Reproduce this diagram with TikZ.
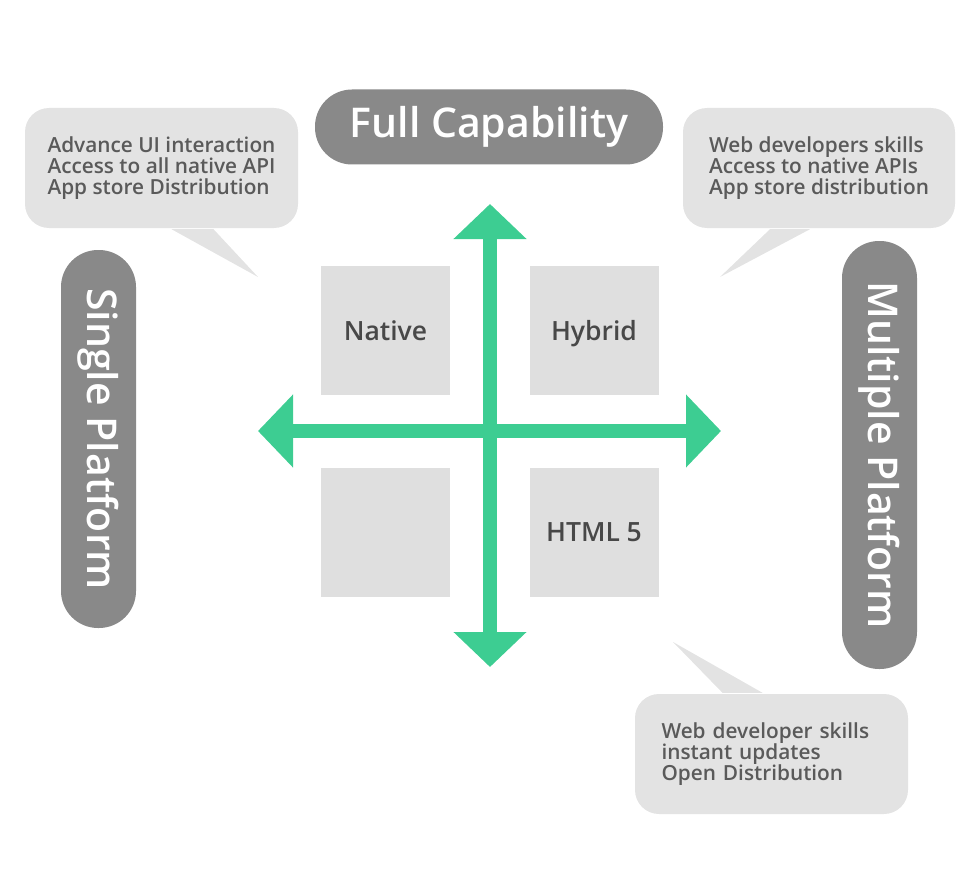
\documentclass[tikz,border=0pt]{standalone}
\usepackage{fontspec}
\setmainfont{Open Sans}[BoldFont={Open Sans Semibold}]
\usetikzlibrary{arrows.meta,positioning,calc}

\definecolor{pillgray}{HTML}{898989}
\definecolor{bubblegray}{HTML}{E3E3E3}
\definecolor{boxgray}{HTML}{DFDFDF}
\definecolor{textgray}{HTML}{5A5A5A}
\definecolor{axisgreen}{HTML}{3DCD92}

\begin{document}
\begin{tikzpicture}[x=1pt, y=-1pt,
    pill/.style={fill=pillgray, text=white, rounded corners=37pt, inner sep=0pt, font=\fontsize{41}{44}\selectfont\bfseries},
    bubble/.style={fill=bubblegray, rounded corners=24pt, align=left, inner sep=0pt, minimum width=273pt, minimum height=120pt, text=textgray, font=\fontsize{20.8}{21}\selectfont\bfseries},
    quad/.style={fill=boxgray, minimum size=129pt, inner sep=0pt, text height=19pt, text depth=0pt, text=textgray!80!black, font=\fontsize{26.5}{28}\selectfont\bfseries},
    axis/.style={line width=14pt, draw=axisgreen, {Triangle[width=71pt,length=35pt]}-{Triangle[width=71pt,length=35pt]}}
]
\useasboundingbox (0,0) rectangle (980,880);

% quadrants
\node[quad] (nat) at (385.5,330.5) {Native};
\node[quad] (hyb) at (594,330.5) {Hybrid};
\node[quad] (emp) at (385.5,532) {};
\node[quad] (web) at (594,532) {HTML 5};

% axes
\coordinate (up) at (490,204);
\coordinate (down) at (490,667);
\coordinate (left) at (258,431);
\coordinate (right) at (721,431);
\draw[axis] (down) -- (up);
\draw[axis] (left) -- (right);

% labels of the axes
\node[pill, minimum width=348pt, minimum height=75pt] (full) at (489,127) {Full Capability};
\node[pill, rotate=-90, minimum width=378pt, minimum height=75pt] (single) at (98.5,439) {Single Platform};
\node[pill, rotate=-90, minimum width=428pt, minimum height=75pt] (multi) at (879.5,455) {Multiple Platform};

% callouts
\node[bubble] (natnote) at (161.5,168) {Advance UI interaction\\Access to all native API\\App store Distribution};
\coordinate (natpt) at (258,277);
\fill[bubblegray] ([xshift=10pt,yshift=-1pt]natnote.south) -- ([xshift=52pt,yshift=-1pt]natnote.south) -- (natpt) -- cycle;

\node[bubble, minimum width=272pt] (hybnote) at (819,168) {Web developers skills\\Access to native APIs\\App store distribution};
\coordinate (hybpt) at (720,277);
\fill[bubblegray] ([xshift=-49pt,yshift=-1pt]hybnote.south) -- ([xshift=-9pt,yshift=-1pt]hybnote.south) -- (hybpt) -- cycle;

\node[bubble, text width=220pt, inner xsep=26.5pt] (webnote) at (771.5,754) {Web developer skills\\instant updates\\Open Distribution};
\coordinate (webpt) at (673,642);
\fill[bubblegray] ([xshift=-49pt,yshift=1pt]webnote.north) -- ([xshift=-9pt,yshift=1pt]webnote.north) -- (webpt) -- cycle;
\end{tikzpicture}
\end{document}
